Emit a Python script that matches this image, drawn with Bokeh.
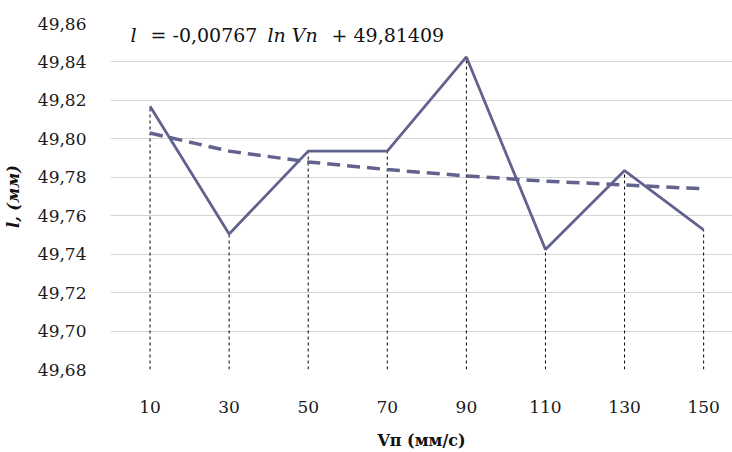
from bokeh.plotting import figure
from bokeh.models import FixedTicker, Label, Range1d
from bokeh.embed import file_html
from bokeh.resources import INLINE

# Data
speeds = [10, 30, 50, 70, 90, 110, 130, 150]
length_mm = [49.817, 49.7505, 49.7936, 49.7936, 49.8426, 49.7424, 49.7835, 49.7526]
trend_mm = [49.803, 49.7936, 49.788, 49.784, 49.7807, 49.778, 49.776, 49.774]
y_ticks = [49.68, 49.70, 49.72, 49.74, 49.76, 49.78, 49.80, 49.82, 49.84, 49.86]
y_tick_labels = {t: f"{t:.2f}".replace(".", ",") for t in y_ticks}
x_tick_labels = {s: str(s) for s in speeds}
eq_parts = [("l", "italic"), ("= -0,00767", "normal"), ("ln Vn", "italic"), ("+ 49,81409", "normal")]

SERIF = "DejaVu Serif"
LINE_C = "#62628f"

p = figure(width=732, height=452, output_backend="svg", toolbar_location=None,
           x_range=Range1d(0, 157.3), y_range=Range1d(49.68, 49.86),
           min_border_left=110, min_border_right=0, min_border_top=23, min_border_bottom=82)
p.outline_line_color = None
p.background_fill_color = "white"

# axes
p.xaxis.ticker = FixedTicker(ticks=speeds)
p.xaxis.major_label_overrides = x_tick_labels
p.yaxis.ticker = FixedTicker(ticks=y_ticks)
p.yaxis.major_label_overrides = y_tick_labels
for ax in (p.xaxis, p.yaxis):
    ax.axis_line_color = None
    ax.major_tick_line_color = None
    ax.minor_tick_line_color = None
    ax.major_label_text_font = SERIF
    ax.major_label_text_font_size = "17px"
    ax.major_label_text_color = "#1a1a1a"
    ax.axis_label_text_font = SERIF
    ax.axis_label_text_color = "#111111"
p.yaxis.major_label_standoff = 18
p.xaxis.major_label_standoff = 25
p.xaxis.axis_label = "Vп (мм/с)"
p.xaxis.axis_label_text_font_style = "bold"
p.xaxis.axis_label_text_font_size = "16px"
p.xaxis.axis_label_standoff = 15
p.yaxis.axis_label = "l, (мм)"
p.yaxis.axis_label_text_font_style = "bold italic"
p.yaxis.axis_label_text_font_size = "16px"
p.yaxis.axis_label_standoff = 12

p.xgrid.grid_line_color = None
p.ygrid.grid_line_color = "#d4d4d4"
p.ygrid.grid_line_width = 1.2

# drop lines
p.segment(x0=speeds, y0=[y_ticks[0]] * len(speeds), x1=speeds, y1=length_mm,
          line_color="black", line_width=1, line_dash="3 3")

# trend
p.line(speeds, trend_mm, line_color=LINE_C, line_width=3.5, line_dash="13 7")
# data
p.line(speeds, length_mm, line_color=LINE_C, line_width=2.8)

# equation
offsets = [20, 40, 157, 221]
for (txt, style), off in zip(eq_parts, offsets):
    p.add_layout(Label(x=0, y=49.86, x_offset=off, y_offset=-11, text=txt,
                       text_font=SERIF, text_font_size="19px", text_font_style=style,
                       text_baseline="middle", text_align="left", text_color="#111111"))

open("out.html", "w").write(file_html(p, INLINE))
